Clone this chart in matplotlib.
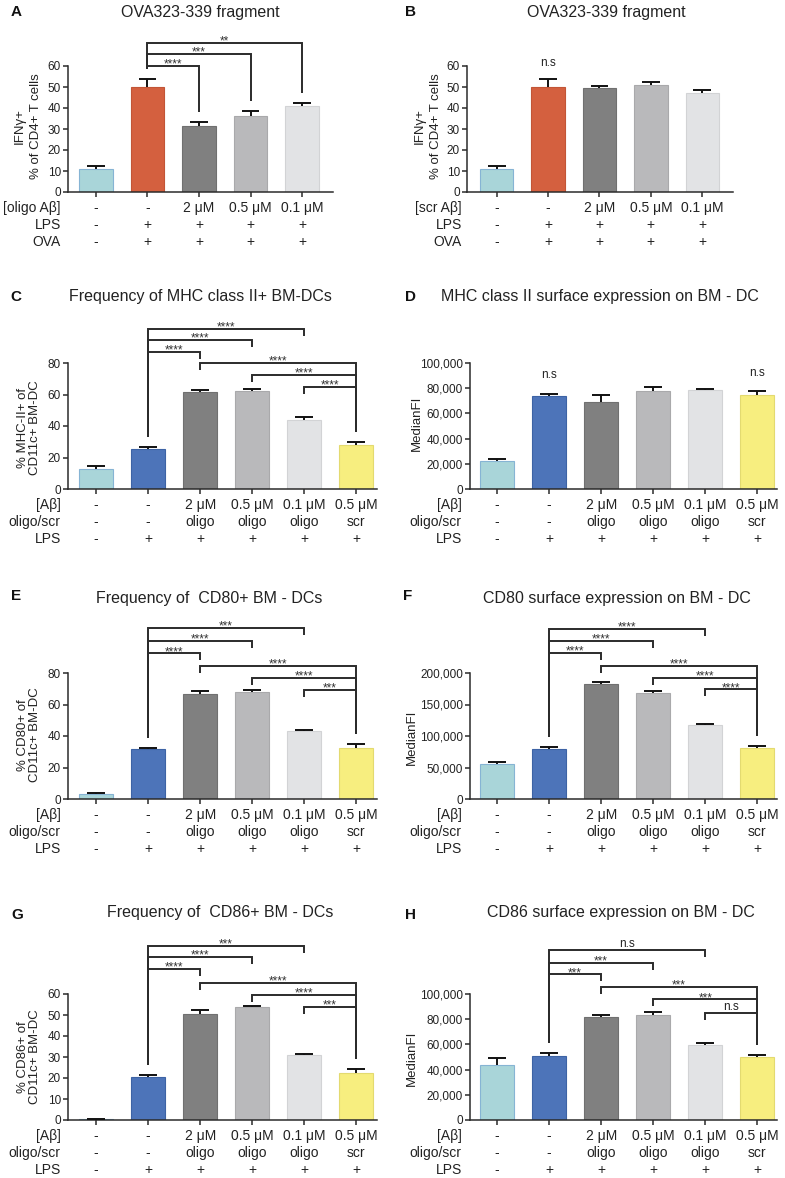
import numpy as np
import matplotlib
matplotlib.use('Agg')
import matplotlib.pyplot as plt
from matplotlib.ticker import FuncFormatter, MultipleLocator

plt.rcParams['font.family'] = ['Liberation Sans', 'DejaVu Sans']
plt.rcParams['text.color'] = '#222222'

# ---- data ----
vals_A = [11, 50, 31.5, 36, 41]
err_A = [1.2, 4, 1.8, 2.5, 1.5]
vals_B = [11, 50, 49.5, 51, 47]
err_B = [1.2, 4, 1.2, 1.5, 1.8]
vals_C = [13, 25.5, 61.5, 62.5, 44, 28]
err_C = [1.3, 1.3, 1.5, 1.3, 1.5, 2.0]
vals_D = [22000, 74000, 69000, 77500, 78500, 75000]
err_D = [1500, 1500, 5500, 3500, 800, 2500]
vals_E = [3, 31.5, 66.5, 68, 43, 32.5]
err_E = [0.8, 0.8, 2.0, 1.0, 1.0, 2.5]
vals_F = [56000, 80000, 182000, 168500, 118000, 81500]
err_F = [3000, 3000, 4000, 3000, 1500, 3000]
vals_G = [0.4, 20.5, 50.5, 54, 30.8, 22.5]
err_G = [0.3, 1.0, 1.8, 0.5, 0.8, 1.8]
vals_H = [44000, 51000, 82000, 83000, 59500, 50000]
err_H = [5500, 2500, 1500, 3000, 1500, 1500]

# significance brackets: (reference bar, other bar, height, label)
br_A = [(1, 2, 60, '****'), (1, 3, 65.7, '***'), (1, 4, 71, '**')]
br_C = [(1, 2, 87, '****'), (1, 3, 94.6, '****'), (1, 4, 101.6, '****'),
        (5, 2, 80, '****'), (5, 3, 72.4, '****'), (5, 4, 64.8, '****')]
br_E = [(1, 2, 92.5, '****'), (1, 3, 100.5, '****'), (1, 4, 108.4, '***'),
        (5, 2, 84.4, '****'), (5, 3, 77, '****'), (5, 4, 69.2, '***')]
br_F = [(1, 2, 232200, '****'), (1, 3, 251300, '****'), (1, 4, 269800, '****'),
        (5, 2, 211100, '****'), (5, 3, 192500, '****'), (5, 4, 174100, '****')]
br_G = [(1, 2, 71.8, '****'), (1, 3, 77.5, '****'), (1, 4, 83, '***'),
        (5, 2, 65.4, '****'), (5, 3, 59.5, '****'), (5, 4, 54, '***')]
br_H = [(1, 2, 115600, '***'), (1, 3, 124800, '***'), (1, 4, 134900, 'n.s'),
        (5, 2, 105800, '***'), (5, 3, 95800, '***'), (5, 4, 84700, 'n.s')]
ns_B = [(1, 61.5)]
ns_D = [(1, 90500), (5, 92300)]

rows_A = [('[oligo A\u03b2]', ['-', '-', '2 \u03bcM', '0.5 \u03bcM', '0.1 \u03bcM']),
          ('LPS', ['-', '+', '+', '+', '+']),
          ('OVA', ['-', '+', '+', '+', '+'])]
rows_B = [('[scr A\u03b2]', ['-', '-', '2 \u03bcM', '0.5 \u03bcM', '0.1 \u03bcM']),
          ('LPS', ['-', '+', '+', '+', '+']),
          ('OVA', ['-', '+', '+', '+', '+'])]
rows_6 = [('[A\u03b2]', ['-', '-', '2 \u03bcM', '0.5 \u03bcM', '0.1 \u03bcM', '0.5 \u03bcM']),
          ('oligo/scr', ['-', '-', 'oligo', 'oligo', 'oligo', 'scr']),
          ('LPS', ['-', '+', '+', '+', '+', '+'])]

teal, orange, blue = '#a9d5d9', '#d4603f', '#4d74b9'
dark, mid, light, yellow = '#808080', '#b9b9bb', '#e2e3e5', '#f7ee7f'
edge = {teal: '#86b4d4', orange: '#c25536', blue: '#3d63a5', dark: '#707070',
        mid: '#a9a9ab', light: '#d2d3d5', yellow: '#e3da70'}
cols5 = [teal, orange, dark, mid, light]
cols6 = [teal, blue, dark, mid, light, yellow]

W, H = 785, 1178
fig = plt.figure(figsize=(W / 100, H / 100), dpi=100)
LC = '#2b2b2b'


def rect(l, r, b, t):
    return [l / W, 1 - b / H, (r - l) / W, (b - t) / H]


def comma(v, pos):
    return '{:,.0f}'.format(v)


def panel(box, xlim, vals, errs, cols, ymax, step, rows, brackets=None,
          long_both=False, ns=None, big=False):
    ax = fig.add_axes(rect(*box))
    x = np.arange(len(vals))
    vals = np.array(vals, float)
    errs = np.array(errs, float)
    ax.bar(x, vals, width=0.65, color=cols, edgecolor=[edge[c] for c in cols],
           linewidth=0.8, zorder=2)
    tops = vals + errs
    ax.vlines(x, vals, tops, color='#111111', lw=1.4, zorder=3)
    ax.hlines(tops, x - 0.17, x + 0.17, color='#111111', lw=1.4, zorder=3)
    ax.set_xlim(*xlim)
    ax.set_ylim(0, ymax)
    ax.yaxis.set_major_locator(MultipleLocator(step))
    if big:
        ax.yaxis.set_major_formatter(FuncFormatter(comma))
    ax.set_xticks(x)
    ax.set_xticklabels([])
    for s in ['top', 'right']:
        ax.spines[s].set_visible(False)
    for s in ['left', 'bottom']:
        ax.spines[s].set_color(LC)
        ax.spines[s].set_linewidth(1.1)
    ax.tick_params(direction='out', length=3.5, width=1.1, color=LC,
                   labelsize=8.5, labelcolor='#222222', pad=1.5)
    ax.patch.set_alpha(0)
    # condition rows under the axis
    tr = ax.get_xaxis_transform()
    for k, (name, labs) in enumerate(rows):
        yy = -(16 + 17 * k) / 126
        ax.text(-0.68, yy, name, transform=tr, ha='right', va='center',
                fontsize=10, clip_on=False)
        for i, s in enumerate(labs):
            ax.text(i, yy, s, transform=tr, ha='center', va='center',
                    fontsize=10, clip_on=False)
    pad = 0.08 * ymax
    short = 0.055 * ymax
    if brackets:
        for ref, oth, y, lab in brackets:
            y_ref = tops[ref] + pad
            y_oth = tops[oth] + pad if long_both else y - short
            ax.plot([ref, ref, oth, oth], [y_ref, y, y, y_oth], color=LC,
                    lw=1.4, clip_on=False, solid_joinstyle='miter',
                    solid_capstyle='butt')
            if lab == 'n.s':
                ax.annotate(lab, xy=((ref + oth) / 2, y), xytext=(0, 2.5),
                            textcoords='offset points', ha='center',
                            va='baseline', fontsize=8.5, annotation_clip=False)
            else:
                ax.annotate(lab, xy=((ref + oth) / 2, y), xytext=(0, -1.2),
                            textcoords='offset points', ha='center',
                            va='baseline', fontsize=8.5, color='#333333',
                            annotation_clip=False)
    if ns:
        for b, y in ns:
            ax.text(b, y, 'n.s', ha='center', va='center', fontsize=8.5,
                    clip_on=False)
    return ax


panel((68, 333, 192, 66), (-0.54, 4.6), vals_A, err_A, cols5, 60, 10, rows_A,
      br_A, long_both=True)
panel((467, 733, 192, 66), (-0.58, 4.6), vals_B, err_B, cols5, 60, 10, rows_B,
      ns=ns_B)
panel((68, 377, 489, 363), (-0.54, 5.4), vals_C, err_C, cols6, 80, 20, rows_6, br_C)
panel((470, 777, 489, 363), (-0.52, 5.38), vals_D, err_D, cols6, 100000, 20000,
      rows_6, ns=ns_D, big=True)
panel((68, 377, 799, 673), (-0.54, 5.4), vals_E, err_E, cols6, 80, 20, rows_6, br_E)
panel((470, 777, 799, 673), (-0.52, 5.38), vals_F, err_F, cols6, 200000, 50000,
      rows_6, br_F, big=True)
panel((68, 377, 1120, 994), (-0.54, 5.4), vals_G, err_G, cols6, 60, 10, rows_6, br_G)
panel((470, 777, 1120, 994), (-0.52, 5.38), vals_H, err_H, cols6, 100000, 20000,
      rows_6, br_H, big=True)


def ftext(px, py, s, **kw):
    fig.text(px / W, 1 - py / H, s, **kw)


titles = [(200, 12, 'OVA323-339 fragment'), (606, 12, 'OVA323-339 fragment'),
          (200, 297, 'Frequency of MHC class II+ BM-DCs'),
          (600, 297, 'MHC class II surface expression on BM - DC'),
          (209, 598, 'Frequency of  CD80+ BM - DCs'),
          (617, 598, 'CD80 surface expression on BM - DC'),
          (220, 913, 'Frequency of  CD86+ BM - DCs'),
          (621, 913, 'CD86 surface expression on BM - DC')]
for px, py, s in titles:
    ftext(px, py, s, ha='center', va='center', fontsize=11.5)

letters = [(16, 12, 'A'), (410, 12, 'B'), (16, 297, 'C'), (410, 297, 'D'),
           (16, 596, 'E'), (408, 596, 'F'), (17, 915, 'G'), (410, 915, 'H')]
for px, py, s in letters:
    ftext(px, py, s, ha='center', va='center', fontsize=11, fontweight='bold',
          color='#111111')

ylabels = [(28, 126, 'IFN\u03b3+\n% of CD4+ T cells', 9.5, 1.45),
           (428, 126, 'IFN\u03b3+\n% of CD4+ T cells', 9.5, 1.45),
           (29, 428, '% MHC-II+ of\nCD11c+ BM-DC', 9.5, 1.05),
           (417, 423, 'MedianFI', 9.5, 1.1),
           (29, 735, '% CD80+ of\nCD11c+ BM-DC', 9.5, 1.05),
           (412, 737, 'MedianFI', 9.5, 1.1),
           (29, 1057, '% CD86+ of\nCD11c+ BM-DC', 9.5, 1.05),
           (412, 1058, 'MedianFI', 9.5, 1.1)]
for px, py, s, fs, ls in ylabels:
    ftext(px, py, s, ha='center', va='center', rotation=90, fontsize=fs,
          linespacing=ls, multialignment='center')

fig.savefig('out.png', dpi=100)
